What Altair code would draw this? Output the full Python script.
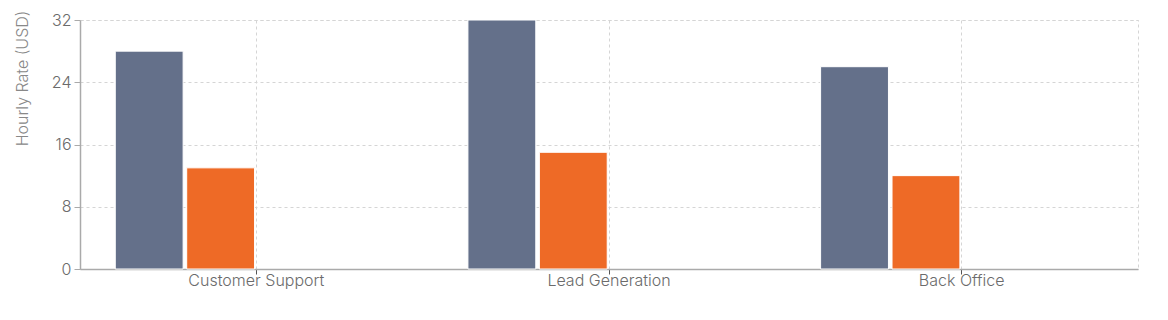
import altair as alt
import pandas as pd

categories = ["Customer Support", "Lead Generation", "Back Office"]
series = ["Onshore", "Offshore"]
onshore = [28, 32, 26]
offshore = [13, 15, 12]

rows = []
for c, a, b in zip(categories, onshore, offshore):
    rows.append({"category": c, "series": series[0], "rate": a})
    rows.append({"category": c, "series": series[1], "rate": b})
df = pd.DataFrame(rows)

font = "Inter"

chart = (
    alt.Chart(df)
    .mark_bar(stroke="white", strokeWidth=1)
    .encode(
        x=alt.X(
            "category:N",
            sort=categories,
            title=None,
            scale=alt.Scale(paddingInner=0.2, paddingOuter=0.1),
            axis=alt.Axis(
                labelAngle=0,
                grid=True,
                bandPosition=0.5,
                gridDash=[3, 3],
                gridColor="#d5d5d5",
                domainColor="#aaaaaa",
                domainWidth=1.5,
                tickColor="#555555",
                tickSize=5,
                labelPadding=-2,
                labelFontSize=16,
                labelColor="#6b6b6b",
                labelFont=font,
                labelFontWeight=300,
            ),
        ),
        xOffset=alt.XOffset(
            "series:N",
            sort=series,
            scale=alt.Scale(paddingInner=0.05, paddingOuter=1.0, align=0),
        ),
        y=alt.Y(
            "rate:Q",
            title="Hourly Rate (USD)",
            scale=alt.Scale(domain=[0, 32]),
            axis=alt.Axis(
                values=[0, 8, 16, 24, 32],
                grid=True,
                gridDash=[3, 3],
                gridColor="#d5d5d5",
                domainColor="#aaaaaa",
                domainWidth=1.5,
                tickColor="#aaaaaa",
                tickSize=6,
                labelPadding=3,
                labelFontSize=16,
                labelColor="#6b6b6b",
                labelFont=font,
                labelFontWeight=300,
                titleFont=font,
                titleFontSize=16,
                titleFontWeight=300,
                titleColor="#888888",
                titleAngle=-90,
                titleY=58,
                titleX=-50,
                titleAlign="center",
                titleBaseline="bottom",
            ),
        ),
        color=alt.Color(
            "series:N",
            sort=series,
            scale=alt.Scale(domain=series, range=["#64708a", "#ee6a26"]),
            legend=None,
        ),
    )
    .properties(
        width=1058,
        height=249,
        autosize=alt.AutoSizeParams(type="none"),
        padding={"left": 80, "top": 20, "right": 30, "bottom": 51},
    )
    .configure_view(stroke="#d5d5d5", strokeDash=[3, 3])
)

chart.save("out.html", embed_options={"renderer": "svg", "actions": False})
